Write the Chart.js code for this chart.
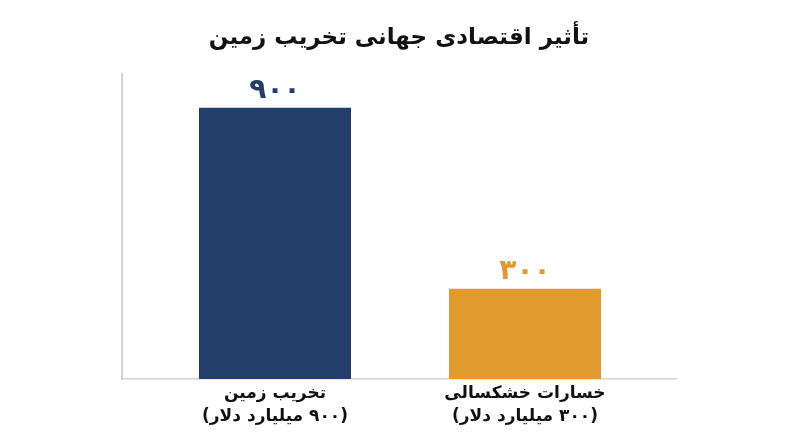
<!DOCTYPE html>
<html>
<head>
<meta charset="utf-8">
<script src="https://cdn.jsdelivr.net/npm/chart.js@4/dist/chart.umd.min.js"></script>
<style>
  html, body { margin: 0; padding: 0; background: #fff; }
  #wrap { width: 800px; height: 447px; }
</style>
</head>
<body>
<div id="wrap"><canvas id="landChart" dir="rtl"></canvas></div>
<script>
// Chart data
const chartTitle = 'تأثیر اقتصادی جهانی تخریب زمین';
const categories = [
    ['تخریب زمین', '(۹۰۰ میلیارد دلار)'],
    ['خسارات خشکسالی', '(۳۰۰ میلیارد دلار)']
];
const values = [900, 300];
const barColors = ['#233e6a', '#e09a2e'];

const FONT = "'DejaVu Sans', sans-serif";

// Latin digits -> Persian digits
function toPersian(n) {
    return String(n).replace(/\d/g, d => '۰۱۲۳۴۵۶۷۸۹'[d]);
}

// Value labels above each bar
const valueLabels = {
    id: 'valueLabels',
    afterDatasetsDraw(chart) {
        const ctx = chart.ctx;
        const meta = chart.getDatasetMeta(0);
        ctx.save();
        ctx.font = 'bold 28px ' + FONT;
        ctx.textAlign = 'center';
        ctx.textBaseline = 'middle';
        meta.data.forEach((bar, i) => {
            ctx.fillStyle = barColors[i];
            ctx.fillText(toPersian(values[i]), bar.x, bar.y - 17);
        });
        ctx.restore();
    }
};

const ctx = document.getElementById('landChart').getContext('2d');
new Chart(ctx, {
    type: 'bar',
    data: {
        datasets: [{
            data: values.map((v, i) => ({ x: i, y: v })),
            backgroundColor: barColors,
            borderWidth: 0,
            categoryPercentage: 1,
            barPercentage: 0.608
        }]
    },
    options: {
        responsive: true,
        maintainAspectRatio: false,
        animation: false,
        layout: {
            padding: { left: 122, right: 124, bottom: 16 }
        },
        plugins: {
            legend: { display: false },
            tooltip: { enabled: false },
            title: {
                display: true,
                text: chartTitle,
                color: '#111',
                font: { family: FONT, size: 23, weight: 'bold' },
                padding: { top: 24, bottom: 22 }
            }
        },
        scales: {
            x: {
                type: 'linear',
                offset: false,
                min: -0.612,
                max: 1.604,
                afterBuildTicks: scale => {
                    scale.ticks = categories.map((c, i) => ({ value: i }));
                },
                grid: { display: false, drawTicks: false, offset: false },
                border: { display: true, color: '#d4d4d4', width: 1.5 },
                ticks: {
                    autoSkip: false,
                    maxRotation: 0,
                    padding: 3,
                    color: '#111',
                    font: { family: FONT, size: 17, weight: 'bold', lineHeight: 1.35 },
                    callback: value => categories[value]
                }
            },
            y: {
                min: 0,
                max: 1013,
                grid: { display: false, drawTicks: false },
                border: { display: true, color: '#d4d4d4', width: 2 },
                ticks: { display: false }
            }
        }
    },
    plugins: [valueLabels]
});
</script>
</body>
</html>
